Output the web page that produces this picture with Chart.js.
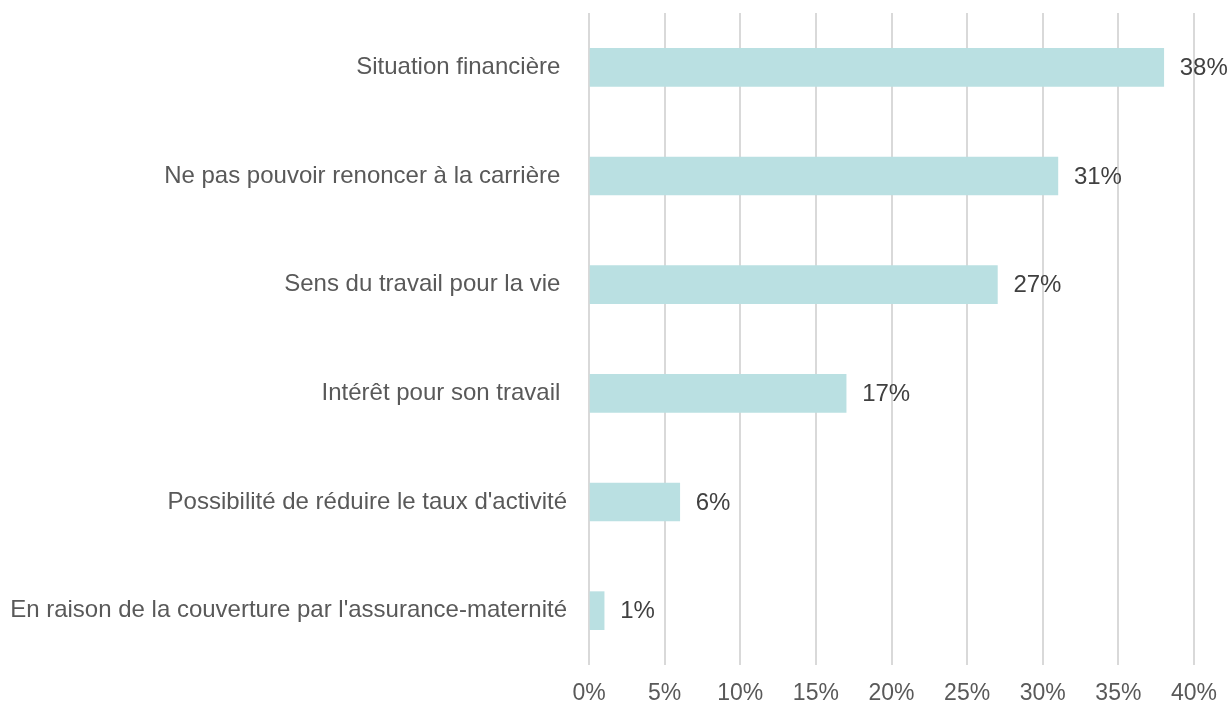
<!DOCTYPE html>
<html>
<head>
<meta charset="utf-8">
<script src="https://cdn.jsdelivr.net/npm/chart.js@4"></script>
<style>
  html, body { margin: 0; padding: 0; background: #fff; }
  #wrap { width: 1229px; height: 705px; }
</style>
</head>
<body>
<div id="wrap"><canvas id="chart" width="1229" height="705"></canvas></div>
<script>
const categories = [
  'Situation financière ',
  'Ne pas pouvoir renoncer à la carrière ',
  'Sens du travail pour la vie ',
  'Intérêt pour son travail ',
  'Possibilité de réduire le taux d\'activité',
  'En raison de la couverture par l\'assurance-maternité'
];
const values = [38, 31, 27, 17, 6, 1];
const xTicks = [0, 5, 10, 15, 20, 25, 30, 35, 40];

Chart.defaults.font.family = '"Liberation Sans", Arial, sans-serif';
Chart.defaults.color = '#595959';

// value labels at the end of each bar
const valueLabels = {
  id: 'valueLabels',
  afterDatasetsDraw(chart) {
    const ctx = chart.ctx;
    const meta = chart.getDatasetMeta(0);
    ctx.save();
    ctx.font = '24px "Liberation Sans", Arial, sans-serif';
    ctx.fillStyle = '#404040';
    ctx.textAlign = 'left';
    ctx.textBaseline = 'middle';
    meta.data.forEach((bar, i) => {
      ctx.fillText(values[i] + '%', bar.x + 16, bar.y + 1);
    });
    ctx.restore();
  }
};

new Chart(document.getElementById('chart'), {
  type: 'bar',
  data: {
    labels: categories,
    datasets: [{
      data: values,
      backgroundColor: '#BAE0E2',
      borderWidth: 0,
      barThickness: 38
    }]
  },
  options: {
    indexAxis: 'y',
    responsive: false,
    animation: false,
    layout: { padding: { top: 13, right: 35, left: 0, bottom: 0 } },
    plugins: {
      legend: { display: false },
      tooltip: { enabled: false }
    },
    scales: {
      x: {
        min: 0,
        max: 40,
        afterBuildTicks: s => { s.ticks = xTicks.map(v => ({ value: v })); },
        afterFit: s => { s.height = 40; s.paddingRight = 0; },
        grid: { color: '#D9D9D9', lineWidth: 2, drawTicks: false },
        border: { display: false },
        ticks: {
          padding: 15,
          font: { size: 23 },
          color: '#595959',
          callback: v => v + '%'
        }
      },
      y: {
        afterFit: s => { s.width = 589; s.paddingTop = 0; s.paddingBottom = 0; },
        grid: { display: false, drawTicks: false },
        border: { display: false },
        ticks: {
          padding: 22,
          font: { size: 24 },
          color: '#595959'
        }
      }
    }
  },
  plugins: [valueLabels]
});
</script>
</body>
</html>
